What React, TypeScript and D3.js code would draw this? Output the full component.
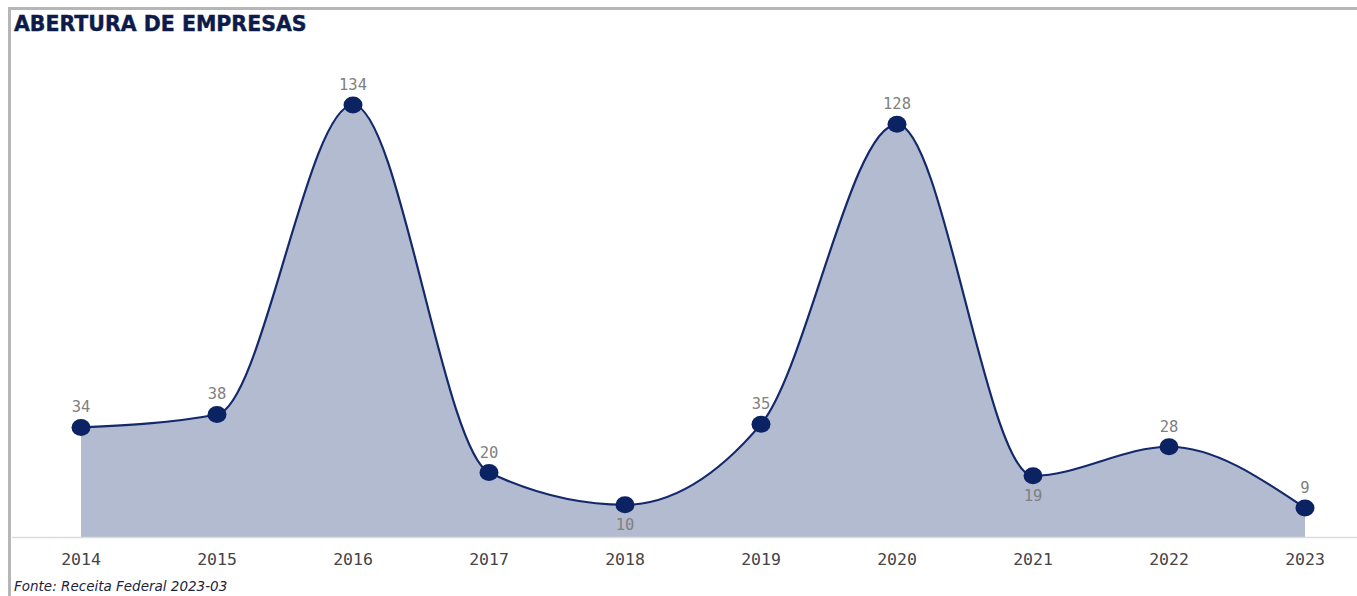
import * as d3 from 'd3'

const years = ['2014', '2015', '2016', '2017', '2018', '2019', '2020', '2021', '2022', '2023']
const counts = [34, 38, 134, 20, 10, 35, 128, 19, 28, 9]
// labels sit under the point for these years
const labelsBelow = ['2018', '2021']

const COLORS = {
  LINE: '#13296b',
  DOT: '#0b2362',
  AREA: '#b3bbd1',
  LABEL: '#808080',
  TICK: '#444444',
  TITLE: '#0d1b4a',
  FRAME: '#b6b6b6',
  BASE: '#dcdcdc',
}

export default function App() {
  const width = 1357
  const height = 596

  const x = d3.scaleBand().domain(years).range([13, 1373])
  const y = d3.scaleLinear().domain([0, 134]).range([537, 105])

  const pts: [number, number][] = years.map((yr, i) => [x(yr)! + x.bandwidth() / 2, y(counts[i])])

  const line = d3.line().curve(d3.curveMonotoneX)(pts) ?? undefined
  const area = d3.area<[number, number]>()
    .x(d => d[0])
    .y0(y(0))
    .y1(d => d[1])
    .curve(d3.curveMonotoneX)(pts) ?? undefined

  const mono = "'DejaVu Sans Mono', 'Liberation Mono', monospace"

  return (
    <div style={{position: 'absolute', left: 0, top: 0}}>
      <svg width={width} height={height} style={{display: 'block', background: '#fff'}}>
        <path d={`M9.5,${height} V8.5 H${width + 5}`} fill={'none'} stroke={COLORS.FRAME} strokeWidth={3} />
        <text
          x={14}
          y={31}
          fontFamily={"'DejaVu Sans', sans-serif"}
          fontWeight={700}
          fontSize={20.5}
          fill={COLORS.TITLE}
          stroke={COLORS.TITLE}
          strokeWidth={0.4}
        >
          ABERTURA DE EMPRESAS
        </text>

        <path d={area} fill={COLORS.AREA} />
        <line x1={12} x2={width} y1={y(0) + 0.5} y2={y(0) + 0.5} stroke={COLORS.BASE} strokeWidth={1.5} />
        <path d={line} fill={'none'} stroke={COLORS.LINE} strokeWidth={2.2} />

        {pts.map(([px, py], i) => (
          <g key={years[i]}>
            <ellipse cx={px} cy={py} rx={9.5} ry={8.5} fill={COLORS.DOT} />
            <text
              x={px}
              y={labelsBelow.includes(years[i]) ? py + 25 : py - 15}
              textAnchor={'middle'}
              fontFamily={mono}
              fontSize={15.5}
              fill={COLORS.LABEL}
            >
              {counts[i]}
            </text>
          </g>
        ))}

        <g fontFamily={mono} fontSize={16.5} fill={COLORS.TICK} textAnchor={'middle'}>
          {years.map(yr => (
            <text key={yr} x={x(yr)! + x.bandwidth() / 2} y={565}>{yr}</text>
          ))}
        </g>

        <text
          x={14}
          y={591}
          fontFamily={"'DejaVu Sans', sans-serif"}
          fontStyle={'italic'}
          fontSize={13.5}
          fill={'#1c2340'}
        >
          Fonte: Receita Federal 2023-03
        </text>
      </svg>
    </div>
  )
}
